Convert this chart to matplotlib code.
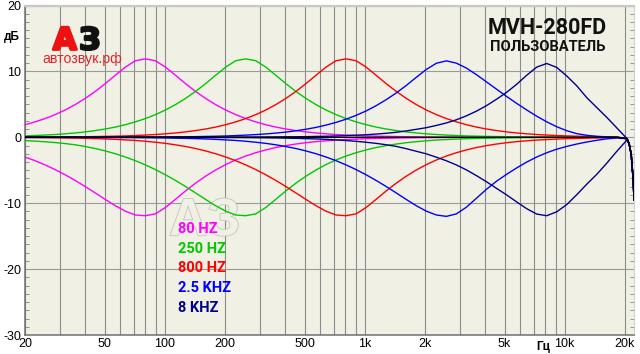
import matplotlib
matplotlib.use('Agg')
import matplotlib.pyplot as plt
from matplotlib.ticker import FixedLocator, MultipleLocator, NullFormatter
import matplotlib.patheffects as pe

freqs = [20.0, 22.45, 25.2, 28.28, 31.75, 35.64, 40.0, 44.9, 50.4, 56.57,
         63.5, 71.27, 80.0, 89.8, 100.8, 113.1, 127.0, 142.5, 160.0, 179.6,
         201.6, 226.3, 254.0, 285.1, 320.0, 359.2, 403.2, 452.5, 508.0, 570.2,
         640.0, 718.4, 806.3, 905.1, 1016, 1140, 1280, 1437, 1613, 1810,
         2032, 2281, 2560, 2874, 3225, 3620, 4064, 4561, 5120, 5747,
         6451, 7241, 8127, 9123, 10240, 11494, 12902, 14482, 16255, 18246,
         20480, 21000, 21500, 22000, 22200]

flat = [0]*60 + [-0.2, -1.0, -2.6, -6.5, -9.5]

boost_80 = [1.91, 2.34, 2.84, 3.44, 4.14, 4.96, 5.90, 6.96, 8.14, 9.41,
            10.65, 11.62, 11.9, 11.62, 10.65, 9.41, 8.14, 6.96, 5.90, 4.96,
            4.14, 3.44, 2.84, 2.34, 1.91, 1.55, 1.26, 1.02, 0.82, 0.66,
            0.53, 0.42, 0.34, 0.27, 0.21, 0.17, 0.14, 0.11, 0.09, 0.07,
            0.05, 0.04, 0.03, 0.03, 0.02, 0.02, 0.01, 0.01, 0.01, 0.0,
            0, 0, 0, 0, 0, 0, 0, 0, 0, 0,
            -0.2, -1.0, -2.6, -6.5, -9.5]
cut_80 = [-2.99, -3.55, -4.19, -4.90, -5.69, -6.55, -7.47, -8.44, -9.43, -10.38,
          -11.21, -11.79, -11.9, -11.62, -10.65, -9.41, -8.14, -6.96, -5.90, -4.96,
          -4.14, -3.44, -2.84, -2.34, -1.91, -1.55, -1.26, -1.02, -0.82, -0.66,
          -0.53, -0.42, -0.34, -0.27, -0.21, -0.17, -0.14, -0.11, -0.09, -0.07,
          -0.05, -0.04, -0.03, -0.03, -0.02, -0.02, -0.01, -0.01, -0.01, 0,
          0, 0, 0, 0, 0, 0, 0, 0, 0, 0,
          -0.2, -1.0, -2.6, -6.5, -9.5]
boost_250 = [0.21, 0.27, 0.34, 0.42, 0.53, 0.66, 0.82, 1.02, 1.26, 1.55,
             1.91, 2.34, 2.84, 3.44, 4.14, 4.96, 5.90, 6.96, 8.14, 9.41,
             10.65, 11.62, 11.9, 11.62, 10.65, 9.41, 8.14, 6.96, 5.90, 4.96,
             4.14, 3.44, 2.84, 2.34, 1.91, 1.55, 1.26, 1.02, 0.82, 0.66,
             0.53, 0.42, 0.34, 0.27, 0.21, 0.17, 0.14, 0.11, 0.09, 0.07,
             0.05, 0.04, 0.03, 0.03, 0.02, 0.02, 0.01, 0.01, 0.01, 0,
             -0.2, -1.0, -2.6, -6.5, -9.5]
cut_250 = [-0.50, -0.58, -0.68, -0.80, -0.95, -1.14, -1.40, -1.70, -2.07, -2.49,
           -2.99, -3.55, -4.19, -4.90, -5.69, -6.55, -7.47, -8.44, -9.43, -10.38,
           -11.21, -11.79, -11.9, -11.62, -10.65, -9.41, -8.14, -6.96, -5.90, -4.96,
           -4.14, -3.44, -2.84, -2.34, -1.91, -1.55, -1.26, -1.02, -0.82, -0.66,
           -0.53, -0.42, -0.34, -0.27, -0.21, -0.17, -0.14, -0.11, -0.09, -0.07,
           -0.05, -0.04, -0.03, -0.03, -0.02, -0.02, -0.01, -0.01, -0.01, 0,
           -0.2, -1.0, -2.6, -6.5, -9.5]
boost_800 = [0.02, 0.02, 0.03, 0.04, 0.05, 0.07, 0.09, 0.11, 0.14, 0.17,
             0.21, 0.27, 0.34, 0.42, 0.53, 0.66, 0.82, 1.02, 1.26, 1.55,
             1.91, 2.34, 2.84, 3.44, 4.14, 4.96, 5.90, 6.96, 8.14, 9.41,
             10.65, 11.62, 11.9, 11.62, 10.65, 9.41, 8.14, 6.96, 5.90, 4.96,
             4.14, 3.44, 2.84, 2.34, 1.91, 1.55, 1.26, 1.02, 0.82, 0.66,
             0.53, 0.42, 0.34, 0.27, 0.21, 0.17, 0.13, 0.10, 0.07, 0.04,
             -0.2, -1.0, -2.6, -6.5, -9.5]
cut_800 = [-0.04, -0.05, -0.06, -0.08, -0.10, -0.13, -0.16, -0.20, -0.25, -0.31,
           -0.39, -0.48, -0.60, -0.75, -0.92, -1.14, -1.40, -1.70, -2.07, -2.49,
           -2.99, -3.55, -4.19, -4.90, -5.69, -6.55, -7.47, -8.44, -9.43, -10.38,
           -11.21, -11.79, -11.9, -11.62, -10.65, -9.41, -8.14, -6.96, -5.90, -4.96,
           -4.14, -3.44, -2.84, -2.34, -1.91, -1.55, -1.26, -1.02, -0.82, -0.66,
           -0.53, -0.42, -0.34, -0.27, -0.21, -0.17, -0.13, -0.10, -0.07, -0.04,
           -0.2, -1.0, -2.6, -6.5, -9.5]
boost_2500 = [0, 0, 0, 0, 0.01, 0.01, 0.01, 0.02, 0.02, 0.03,
              0.03, 0.04, 0.04, 0.05, 0.05, 0.07, 0.08, 0.10, 0.13, 0.16,
              0.20, 0.26, 0.33, 0.41, 0.51, 0.64, 0.79, 0.99, 1.22, 1.50,
              1.85, 2.26, 2.75, 3.33, 4.00, 4.80, 5.71, 6.73, 7.87, 9.10,
              10.30, 11.24, 11.6, 11.25, 10.5, 9.5, 8.4, 7.3, 6.2, 5.15,
              4.15, 3.2, 2.35, 1.6, 1.0, 0.55, 0.3, 0.15, 0.07, 0.02,
              -0.2, -1.0, -2.6, -6.5, -9.5]
cut_2500 = [-0.01, -0.01, -0.01, -0.01, -0.01, -0.01, -0.02, -0.02, -0.03, -0.03,
            -0.04, -0.05, -0.06, -0.08, -0.10, -0.13, -0.16, -0.20, -0.25, -0.31,
            -0.39, -0.48, -0.60, -0.75, -0.92, -1.14, -1.40, -1.70, -2.07, -2.49,
            -2.99, -3.55, -4.19, -4.90, -5.69, -6.55, -7.47, -8.44, -9.43, -10.38,
            -11.21, -11.79, -12.0, -11.62, -10.6, -9.24, -7.88, -6.66, -5.62, -4.65,
            -3.76, -2.99, -2.34, -1.80, -1.38, -1.02, -0.71, -0.45, -0.23, -0.10,
            -0.23, -1.0, -2.6, -6.5, -9.5]
boost_8000 = [0, 0, 0, 0, 0, 0, 0, 0, 0, 0,
              0, 0, 0, 0, 0.01, 0.01, 0.01, 0.01, 0.02, 0.02,
              0.02, 0.02, 0.03, 0.03, 0.04, 0.05, 0.07, 0.08, 0.10, 0.13,
              0.16, 0.20, 0.25, 0.32, 0.39, 0.49, 0.61, 0.76, 0.97, 1.21,
              1.46, 1.80, 2.18, 2.66, 3.26, 3.97, 4.81, 5.78, 6.82, 8.04,
              9.41, 10.65, 11.2, 10.6, 9.3, 7.8, 6.0, 4.5, 3.0, 1.4,
              -0.2, -1.0, -2.6, -6.5, -9.5]
cut_8000 = [-0.01, -0.01, -0.01, -0.01, -0.01, -0.01, -0.01, -0.01, -0.01, -0.01,
            -0.01, -0.01, -0.01, -0.01, -0.01, -0.01, -0.01, -0.02, -0.025, -0.03,
            -0.035, -0.04, -0.05, -0.063, -0.08, -0.10, -0.125, -0.16, -0.20, -0.25,
            -0.31, -0.40, -0.49, -0.61, -0.75, -0.92, -1.13, -1.38, -1.73, -2.12,
            -2.51, -3.02, -3.56, -4.20, -4.95, -5.82, -6.75, -7.75, -8.74, -9.80,
            -10.83, -11.65, -11.9, -11.3, -10.2, -8.7, -7.1, -5.6, -3.9, -2.1,
            -0.4, -1.1, -2.6, -6.5, -9.5]

series = [
    ("80 HZ", "#FF00FF", boost_80, cut_80),
    ("250 HZ", "#00C800", boost_250, cut_250),
    ("800 HZ", "#FF0000", boost_800, cut_800),
    ("2.5 KHZ", "#0000FF", boost_2500, cut_2500),
    ("8 KHZ", "#00008C", boost_8000, cut_8000),
]

x_major = [20, 50, 100, 200, 500, 1000, 2000, 5000, 10000, 20000]
x_major_labels = ["20", "50", "100", "200", "500", "1k", "2k", "5k", "10k", "20k"]
x_grid = [30, 40, 60, 70, 80, 90, 300, 400, 600, 700, 800, 900,
          3000, 4000, 6000, 7000, 8000, 9000]
y_major = [-30, -20, -10, 0, 10, 20]

W, H = 640, 354
fig = plt.figure(figsize=(W/100, H/100), dpi=100, facecolor='white')
ax = fig.add_axes([25/W, 1-335/H, 609/W, 329.5/H])
bg = '#F1F0E4'
ax.set_facecolor(bg)
ax.set_xscale('log')
ax.set_xlim(20, 22200)
ax.set_ylim(-30, 20)

tick_font = ['Liberation Sans Narrow', 'Liberation Sans', 'DejaVu Sans']
ax.xaxis.set_major_locator(FixedLocator(x_major))
ax.xaxis.set_minor_locator(FixedLocator(x_grid))
ax.xaxis.set_minor_formatter(NullFormatter())
ax.set_xticklabels(x_major_labels, fontfamily=tick_font, fontsize=9)
ax.yaxis.set_major_locator(FixedLocator(y_major))
ax.yaxis.set_minor_locator(MultipleLocator(1.25))
ax.set_yticklabels([str(v) for v in y_major], fontfamily=tick_font, fontsize=9)
ax.tick_params(axis='both', which='major', length=0, pad=2.5)
ax.tick_params(axis='x', which='minor', length=0)
ax.tick_params(axis='y', which='minor', direction='in', length=3, width=0.7,
               color='#909090', left=True, right=True)

ax.grid(True, axis='x', which='both', color='#8c8c8c', lw=0.8)
ax.grid(True, axis='y', which='major', color='#9a9a9a', lw=0.8)
ax.set_axisbelow(True)

for s in ('left', 'bottom'):
    ax.spines[s].set_color('#707070')
    ax.spines[s].set_linewidth(1.1)
ax.spines['top'].set_color('#c8c8c8')
ax.spines['top'].set_linewidth(1.6)
ax.spines['right'].set_color('#d0d0d0')
ax.spines['right'].set_linewidth(0.8)

# faint watermark
wm = ax.text(0.295, 0.345, "АЗ", transform=ax.transAxes, fontsize=38,
             fontweight='bold', color=bg, ha='center', va='center',
             family=['Liberation Sans', 'DejaVu Sans'], zorder=1.5)
wm.set_path_effects([pe.withStroke(linewidth=1.2, foreground='#c4c4c4')])

for name, color, up, down in series:
    ax.plot(freqs, up, color=color, lw=1.0, zorder=3)
    ax.plot(freqs, down, color=color, lw=1.0, zorder=3)
ax.plot(freqs, flat, color='#000000', lw=1.0, zorder=4)

# legend text
leg_y = [229, 249, 268.5, 288, 307.5]
for (name, color, up, down), yy in zip(series, leg_y):
    fig.text(178/W, 1-yy/H, name, color=color, fontsize=10.5, fontweight='bold',
             family=['Roboto', 'DejaVu Sans'], ha='left', va='center', zorder=5)

# axis unit labels
fig.text(12/W, 1-37/H, "дБ", fontsize=8.5, fontweight='bold', ha='center', va='center',
         family=['Liberation Sans', 'DejaVu Sans'])
fig.text(543/W, 1-347/H, "Гц", fontsize=8.5, fontweight='bold', ha='center', va='center',
         family=['Liberation Sans', 'DejaVu Sans'])

# title
fig.text(547/W, 1-28.5/H, "MVH-280FD", fontsize=15.5, fontweight='bold', ha='center',
         va='center', family=['Roboto', 'DejaVu Sans'], color='#111111')
fig.text(547.5/W, 1-47/H, "ПОЛЬЗОВАТЕЛЬ", fontsize=10.6, fontweight='bold', ha='center',
         va='center', family=['Roboto', 'DejaVu Sans'], color='#111111')

# logo
la = fig.text(53/W, 1-49.5/H, "А", fontsize=22, fontweight='bold', color='#EE1111',
              ha='left', va='baseline', family=['DejaVu Sans'])
la.set_path_effects([pe.withStroke(linewidth=2.0, foreground='#EE1111')])
lz = fig.text(79/W, 1-49.5/H, "З", fontsize=22, fontweight='bold', color='#111111',
              ha='left', va='baseline', family=['DejaVu Sans'])
lz.set_path_effects([pe.withStroke(linewidth=1.6, foreground='#111111')])
fig.text(42/W, 1-62.5/H, "автозвук.рф", fontsize=10.2, color='#E8202A',
         ha='left', va='baseline', family=['Liberation Sans', 'DejaVu Sans'])

fig.savefig('out.png', dpi=100, facecolor='white')
